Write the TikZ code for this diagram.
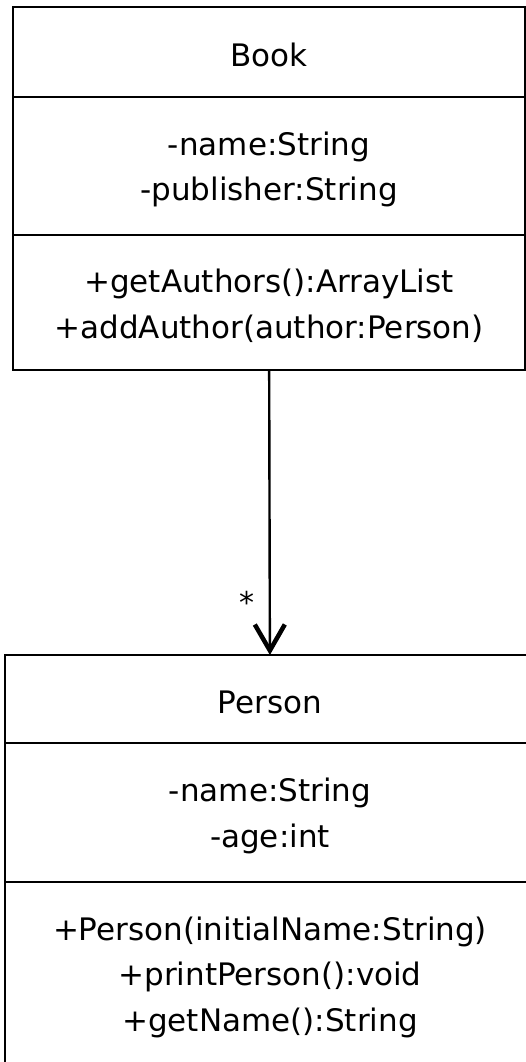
\documentclass[tikz,border=0pt]{standalone}
\usepackage{fontspec}
\setmainfont{DejaVu Sans}
\usetikzlibrary{arrows.meta,positioning}

\newcommand{\cstrut}{\rule{0pt}{30pt}}

\begin{document}
\begin{tikzpicture}[x=1pt, y=-1pt,
    part/.style={draw, line width=2.8pt, outer sep=0pt, inner sep=0pt, align=center,
                 font=\fontsize{31}{45.5}\selectfont},
    assoc/.style={-{Straight Barb[length=26pt,width=30pt,line width=4.5pt]}, line width=2.4pt}
]
\useasboundingbox (0,0) rectangle (526,1062);
\clip (0,0) rectangle (526,1062);

% Book class
\node[part, minimum width=512pt, minimum height=90pt] (bookname) at (269,52) {\cstrut Book};
\node[part, minimum width=512pt, minimum height=138pt, below=0pt of bookname] (bookattrs)
    {\cstrut-name:String\\-publisher:String};
\node[part, minimum width=512pt, minimum height=135pt, below=0pt of bookattrs] (bookops)
    {\cstrut+getAuthors():ArrayList\\+addAuthor(author:Person)};

% Person class
\node[part, minimum width=530pt, minimum height=88pt] (personname) at (270,699) {\cstrut Person};
\node[part, minimum width=530pt, minimum height=139pt, below=0pt of personname] (personattrs)
    {\cstrut-name:String\\-age:int};
\node[part, minimum width=530pt, minimum height=184pt, below=0pt of personattrs] (personops)
    {\cstrut+Person(initialName:String)\\+printPerson():void\\+getName():String};

% association
\draw[assoc] (bookops) -- node[pos=0.814, xshift=-23pt, font=\fontsize{30}{36}\selectfont] (mult) {*} (personname);
\end{tikzpicture}
\end{document}
